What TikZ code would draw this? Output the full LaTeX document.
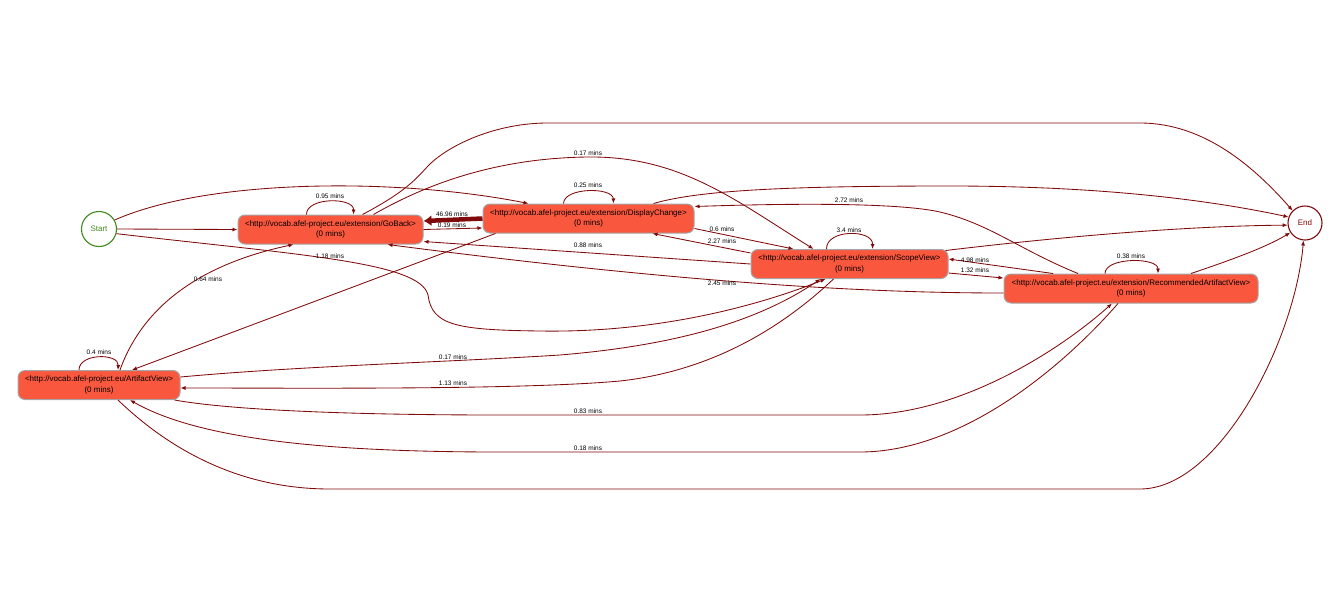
\documentclass[tikz,border=0pt]{standalone}
\usepackage{fontspec}
\setmainfont{Liberation Sans}
\usetikzlibrary{arrows.meta}

\definecolor{boxfill}{RGB}{250,88,62}
\definecolor{boxline}{RGB}{165,165,165}
\definecolor{linkcol}{RGB}{128,10,10}
\definecolor{startcol}{RGB}{62,138,30}
\definecolor{endcol}{RGB}{128,10,10}

\begin{document}
\begin{tikzpicture}[x=1pt,y=-1pt,
  statebox/.style={draw=boxline, line width=1pt, fill=boxfill, rounded corners=7pt,
    minimum height=29pt, inner sep=0pt, align=center, font=\fontsize{8}{10.5}\selectfont},
  terminal/.style={circle, line width=1.1pt, minimum size=35pt, inner sep=0pt,
    font=\fontsize{8}{9}\selectfont},
  link/.style={draw=linkcol, line width=0.85pt, -{Latex[length=5pt,width=4pt]}},
  heavy/.style={draw=linkcol, line width=4.5pt, -{Latex[length=8pt,width=11pt]}},
  lbl/.style={font=\fontsize{6.5}{7}\selectfont, inner sep=0pt}]

\useasboundingbox (0,0) rectangle (1338,603);

% states
\node[terminal, draw=startcol, text=startcol] (st) at (99,229) {Start};
\node[terminal, draw=endcol, text=endcol, minimum size=34pt] (en) at (1305,223) {End};
\node[statebox, minimum width=185pt] (gb) at (330.5,229.5)
  {<http://vocab.afel-project.eu/extension/GoBack>\\(0 mins)};
\node[statebox, minimum width=211pt] (dc) at (588.5,218.5)
  {<http://vocab.afel-project.eu/extension/DisplayChange>\\(0 mins)};
\node[statebox, minimum width=197pt] (sv) at (849.5,264)
  {<http://vocab.afel-project.eu/extension/ScopeView>\\(0 mins)};
\node[statebox, minimum width=254pt] (ra) at (1131,288.5)
  {<http://vocab.afel-project.eu/extension/RecommendedArtifactView>\\(0 mins)};
\node[statebox, minimum width=162pt] (av) at (99,385)
  {<http://vocab.afel-project.eu/ArtifactView>\\(0 mins)};

% transitions out of Start
\draw[link] (st.east) -- (gb.west);
\draw[link] (st.30) .. controls (210,178) and (400,178) .. ([xshift=-60pt]dc.north);
\draw[link] (st.-15) .. controls (300,255) and (420,262) .. (428,295)
  .. controls (432,325) and (455,330) .. (540,331)
  .. controls (660,333) and (760,305) .. ([xshift=-24pt]sv.south);

% GoBack
\draw[link] ([xshift=-24pt]gb.north) .. controls (306,197) and (354,197) .. ([xshift=23pt]gb.north);
\draw[heavy] (dc.west) -- ([yshift=8.5pt]gb.east);
\draw[link] (gb.east) -- ([yshift=-9.5pt]dc.west);
\draw[link] ([xshift=32pt]gb.north) .. controls (405,192) and (415,180) .. (428,166)
  .. controls (445,148) and (490,124) .. (545,123) -- (1140,123)
  .. controls (1205,123) and (1255,168) .. (en.135);
\draw[link] ([xshift=43pt]gb.north) .. controls (430,182) and (500,158) .. (588,157)
  .. controls (680,156) and (735,200) .. ([xshift=-36pt]sv.north);

% DisplayChange
\draw[link] ([xshift=-25pt]dc.north) .. controls (564,187) and (613,187) .. ([xshift=25pt]dc.north);
\draw[link] ([xshift=65pt]dc.north) .. controls (700,190) and (790,186) .. (950,186)
  .. controls (1100,186) and (1210,200) .. (en.160);
\draw[link] ([yshift=-10pt]dc.east) -- ([xshift=-56pt]sv.north);
\draw[link] ([xshift=-93pt]dc.south) -- ([xshift=33pt]av.north);

% ScopeView
\draw[link] ([xshift=-23pt]sv.north) .. controls (826,229) and (873,229) .. ([xshift=23pt]sv.north);
\draw[link] (sv.west) -- ([yshift=-12pt]gb.east);
\draw[link] ([yshift=11pt]sv.west) -- ([xshift=64pt]dc.south);
\draw[link] ([yshift=-9pt]sv.east) -- ([yshift=10.5pt]ra.west);
\draw[link] ([xshift=-3pt,yshift=-1.5pt]sv.north east) .. controls (1050,238) and (1180,226) .. (en.187);
\draw[link] ([xshift=-16pt]sv.south) .. controls (790,320) and (720,370) .. (620,381)
  .. controls (520,390) and (300,388) .. ([yshift=-3pt]av.east);

% RecommendedArtifactView
\draw[link] ([xshift=-26pt]ra.north) .. controls (1105,257) and (1158,257) .. ([xshift=27pt]ra.north);
\draw[link] ([xshift=-53pt]ra.north) .. controls (1020,250) and (990,224) .. (940,212)
  .. controls (900,203) and (800,203) .. ([yshift=12pt]dc.east);
\draw[link] ([xshift=-78pt]ra.north) -- ([yshift=5pt]sv.east);
\draw[link] ([yshift=-4.5pt]ra.west) .. controls (880,293) and (700,285) .. ([xshift=57pt]gb.south);
\draw[link] ([xshift=60pt]ra.north) .. controls (1225,262) and (1265,248) .. (en.213);
\draw[link] ([xshift=-13pt]ra.south) .. controls (1060,370) and (960,452) .. (860,452)
  -- (500,452) .. controls (330,452) and (200,440) .. ([xshift=31pt]av.south);

% ArtifactView
\draw[link] ([xshift=-20pt]av.north) .. controls (79,353) and (119,353) .. ([xshift=19pt]av.north);
\draw[link] ([xshift=21pt]av.north) .. controls (145,300) and (210,262) .. ([xshift=-37pt]gb.south);
\draw[link] ([yshift=8pt]av.east) .. controls (300,366) and (450,362) .. (560,355)
  .. controls (680,345) and (760,320) .. ([xshift=-29pt]sv.south);
\draw[link] ([xshift=-6pt]av.south east) .. controls (230,410) and (350,415) .. (500,415)
  -- (860,415) .. controls (960,415) and (1060,350) .. ([xshift=-19pt]ra.south);
\draw[link] ([xshift=19pt]av.south) .. controls (170,450) and (240,489) .. (330,489)
  -- (1140,489) .. controls (1220,489) and (1295,340) .. (en.265);

% duration labels
\node[lbl] (l1) at (330,196) {0.95 mins};
\node[lbl] (l2) at (452,214) {46.96 mins};
\node[lbl] (l3) at (452,225) {0.19 mins};
\node[lbl] (l4) at (588,185) {0.25 mins};
\node[lbl] (l5) at (588,153) {0.17 mins};
\node[lbl] (l6) at (330,256) {1.18 mins};
\node[lbl] (l7) at (208,279) {0.64 mins};
\node[lbl] (l8) at (588,245) {0.88 mins};
\node[lbl] (l9) at (722,229) {0.6 mins};
\node[lbl] (l10) at (722,241) {2.27 mins};
\node[lbl] (l11) at (849,200) {2.72 mins};
\node[lbl] (l12) at (849,230) {3.4 mins};
\node[lbl] (l13) at (975,260) {4.98 mins};
\node[lbl] (l14) at (975,270) {1.32 mins};
\node[lbl] (l15) at (722,283) {2.45 mins};
\node[lbl] (l16) at (1131,256) {0.38 mins};
\node[lbl] (l17) at (99,352) {0.4 mins};
\node[lbl] (l18) at (453,357) {0.17 mins};
\node[lbl] (l19) at (453,383) {1.13 mins};
\node[lbl] (l20) at (588,411) {0.83 mins};
\node[lbl] (l21) at (588,448) {0.18 mins};

\end{tikzpicture}
\end{document}
